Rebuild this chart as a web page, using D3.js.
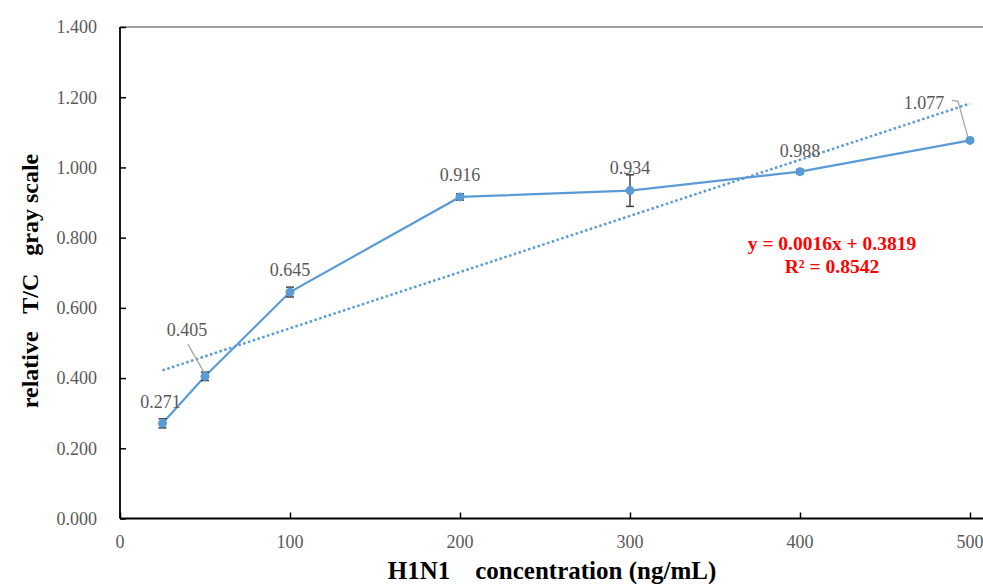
<!DOCTYPE html>
<html>
<head>
<meta charset="utf-8">
<script src="https://cdn.jsdelivr.net/npm/d3@7"></script>
<style>
  body { margin: 0; background: #fff; }
  svg { display: block; font-family: "Liberation Serif", "Times New Roman", serif; }
</style>
</head>
<body>
<svg id="chart" width="983" height="584"></svg>
<script>
// data
const concentration = [25, 50, 100, 200, 300, 400, 500];
const grayScale = [0.271, 0.405, 0.645, 0.916, 0.934, 0.988, 1.077];
const errorBars = [0.013, 0.012, 0.014, 0.009, 0.045, 0.006, 0.004];
const xTicks = [0, 100, 200, 300, 400, 500];
const yTicks = [0, 0.2, 0.4, 0.6, 0.8, 1.0, 1.2, 1.4];
const trendSlope = 0.0016;
const trendIntercept = 0.3819;

// label placement (offset from point, px)
const labelOffsets = [[-2, -22], [-18, -47], [0, -22], [0, -22], [0, -23], [0, -21], [-46, -38]];

const svg = d3.select("#chart");
const plotLeft = 120, plotRight = 970, plotTop = 27, plotBottom = 518.5;

const x = d3.scaleLinear().domain([0, 500]).range([plotLeft, plotRight]);
const y = d3.scaleLinear().domain([0, 1.4]).range([plotBottom, plotTop]);

const blue = "#5b9bd5";
const tickGray = "#595959";

// frame top line
svg.append("line")
    .attr("x1", plotLeft).attr("x2", 983)
    .attr("y1", plotTop).attr("y2", plotTop)
    .attr("stroke", "#7f7f7f")
    .attr("stroke-width", 1.5);

// y axis
const yAxis = svg.append("g")
    .attr("transform", `translate(${plotLeft},0)`)
    .call(d3.axisRight(y).tickValues(yTicks).tickSize(6).tickFormat(""));
yAxis.select(".domain").remove();
yAxis.selectAll("line").attr("stroke", "#000").attr("stroke-width", 1.5);

svg.append("line")
    .attr("x1", plotLeft).attr("x2", plotLeft)
    .attr("y1", plotTop).attr("y2", plotBottom)
    .attr("stroke", "#000").attr("stroke-width", 1.8);

svg.selectAll(".ylab")
    .data(yTicks)
    .enter().append("text")
    .attr("class", "ylab")
    .attr("x", 97)
    .attr("y", d => y(d))
    .attr("dy", "0.35em")
    .attr("text-anchor", "end")
    .attr("fill", tickGray)
    .style("font-size", "18px")
    .text(d => d3.format(".3f")(d));

// x axis
const xAxis = svg.append("g")
    .attr("transform", `translate(0,${plotBottom})`)
    .call(d3.axisTop(x).tickValues(xTicks).tickSize(6).tickFormat(""));
xAxis.select(".domain").remove();
xAxis.selectAll("line").attr("stroke", "#000").attr("stroke-width", 1.5);

svg.append("line")
    .attr("x1", plotLeft).attr("x2", 983)
    .attr("y1", plotBottom).attr("y2", plotBottom)
    .attr("stroke", "#000").attr("stroke-width", 1.8);

svg.selectAll(".xlab")
    .data(xTicks)
    .enter().append("text")
    .attr("class", "xlab")
    .attr("x", d => x(d))
    .attr("y", 542)
    .attr("dy", "0.35em")
    .attr("text-anchor", "middle")
    .attr("fill", tickGray)
    .style("font-size", "18px")
    .text(d => d);

// axis titles
svg.append("text")
    .attr("transform", "translate(38,281) rotate(-90)")
    .attr("text-anchor", "middle")
    .attr("font-weight", "bold")
    .attr("xml:space", "preserve")
    .style("font-size", "24px")
    .style("white-space", "pre")
    .text("relative   T/C   gray scale");

svg.append("text")
    .attr("x", 552)
    .attr("y", 579)
    .attr("text-anchor", "middle")
    .attr("font-weight", "bold")
    .attr("xml:space", "preserve")
    .style("font-size", "25px")
    .style("white-space", "pre")
    .text("H1N1    concentration (ng/mL)");

// trend line (dotted)
const trendX = [concentration[0], concentration[concentration.length - 1]];
svg.append("line")
    .attr("x1", x(trendX[0])).attr("y1", y(trendSlope * trendX[0] + trendIntercept))
    .attr("x2", x(trendX[1])).attr("y2", y(trendSlope * trendX[1] + trendIntercept))
    .attr("stroke", blue)
    .attr("stroke-width", 2.5)
    .attr("stroke-dasharray", "2.5,2.5");

const pts = concentration.map((c, i) => ({ c, v: grayScale[i], e: errorBars[i] }));

// series line
svg.append("path")
    .datum(pts)
    .attr("fill", "none")
    .attr("stroke", blue)
    .attr("stroke-width", 2.2)
    .attr("d", d3.line().x(d => x(d.c)).y(d => y(d.v)));

// error bars
const eb = svg.selectAll(".err").data(pts).enter().append("g").attr("class", "err")
    .attr("stroke", "#404040").attr("stroke-width", 1.5);
eb.append("line")
    .attr("x1", d => x(d.c)).attr("x2", d => x(d.c))
    .attr("y1", d => y(d.v - d.e)).attr("y2", d => y(d.v + d.e));
eb.append("line")
    .attr("x1", d => x(d.c) - 4).attr("x2", d => x(d.c) + 4)
    .attr("y1", d => y(d.v - d.e)).attr("y2", d => y(d.v - d.e));
eb.append("line")
    .attr("x1", d => x(d.c) - 4).attr("x2", d => x(d.c) + 4)
    .attr("y1", d => y(d.v + d.e)).attr("y2", d => y(d.v + d.e));

// markers
svg.selectAll(".pt").data(pts).enter().append("circle")
    .attr("class", "pt")
    .attr("cx", d => x(d.c))
    .attr("cy", d => y(d.v))
    .attr("r", 4.5)
    .attr("fill", blue);

// leader lines
const lead405 = pts[1], lead1077 = pts[6];
svg.append("path")
    .attr("d", `M${x(lead405.c) - 17},${y(lead405.v) - 32} L${x(lead405.c) - 1},${y(lead405.v) - 4}`)
    .attr("fill", "none").attr("stroke", "#a6a6a6").attr("stroke-width", 1.3);
svg.append("path")
    .attr("d", `M${x(lead1077.c) - 18},${y(lead1077.v) - 40} L${x(lead1077.c) - 12},${y(lead1077.v) - 39} L${x(lead1077.c) - 2},${y(lead1077.v) - 3}`)
    .attr("fill", "none").attr("stroke", "#a6a6a6").attr("stroke-width", 1.3);

// data labels
svg.selectAll(".dlab").data(pts).enter().append("text")
    .attr("class", "dlab")
    .attr("x", (d, i) => x(d.c) + labelOffsets[i][0])
    .attr("y", (d, i) => y(d.v) + labelOffsets[i][1])
    .attr("dy", "0.35em")
    .attr("text-anchor", "middle")
    .attr("fill", tickGray)
    .style("font-size", "18px")
    .text(d => d3.format(".3f")(d.v));

// equation
svg.append("text")
    .attr("x", 832).attr("y", 250)
    .attr("text-anchor", "middle")
    .attr("font-weight", "bold")
    .attr("fill", "#ff0000")
    .style("font-size", "19.5px")
    .text(`y = ${trendSlope}x + ${trendIntercept}`);
svg.append("text")
    .attr("x", 832).attr("y", 273)
    .attr("text-anchor", "middle")
    .attr("font-weight", "bold")
    .attr("fill", "#ff0000")
    .style("font-size", "19.5px")
    .text("R² = 0.8542");
</script>
</body>
</html>
